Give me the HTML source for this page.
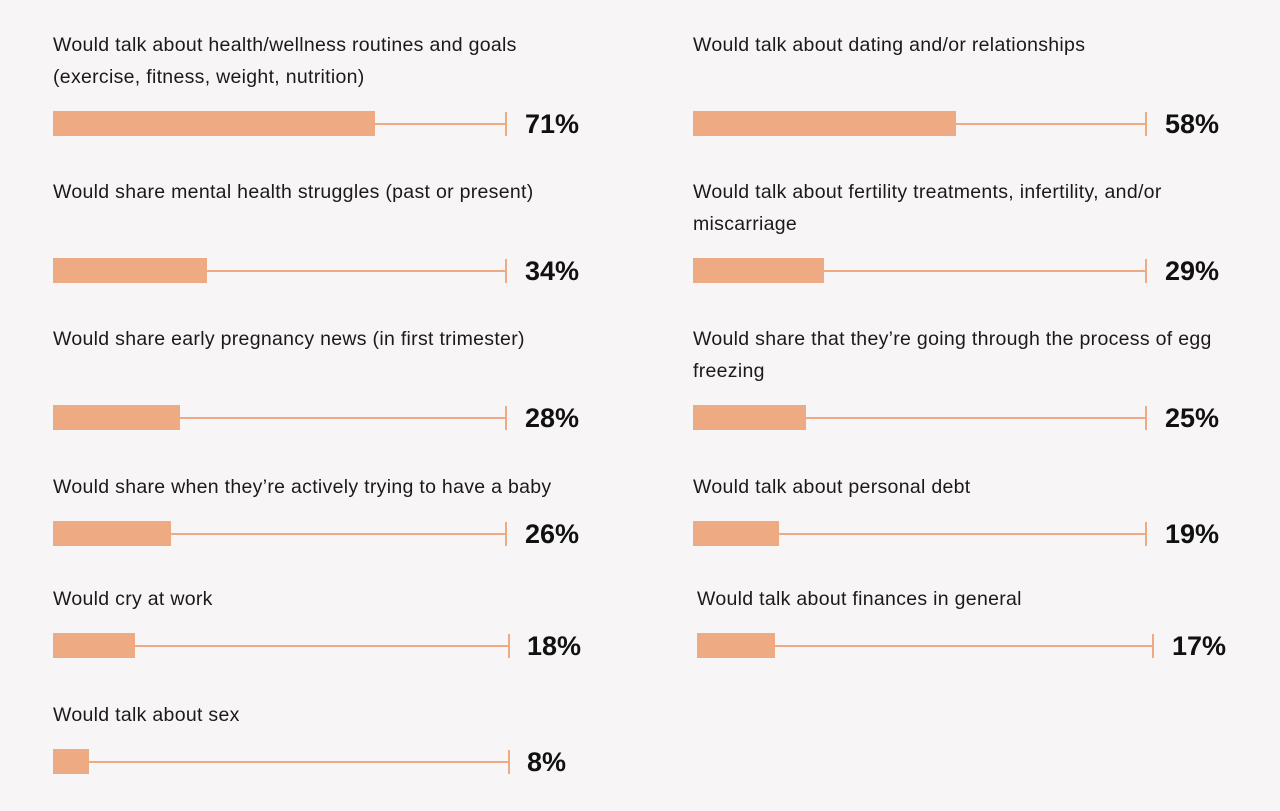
<!DOCTYPE html>
<html><head><style>
body{margin:0;width:1280px;height:811px;background:#f7f5f5;font-family:"Liberation Sans",sans-serif;position:relative;overflow:hidden}
.t{position:absolute;font-size:19.5px;letter-spacing:0.3px;color:#1a1a1a;line-height:32px;white-space:nowrap}
.b{position:absolute;height:25px;background:#eeab83}
.l{position:absolute;height:2px;background:#eeab83}
.k{position:absolute;width:2px;height:24px;background:#eeab83}
.p{position:absolute;font-size:27px;font-weight:bold;color:#111;line-height:30px}
</style></head><body>
<div id="c"></div>
<script>
const rows=[
[53,506,525,124,71,["Would talk about health/wellness routines and goals","(exercise, fitness, weight, nutrition)"],29],
[53,506,525,271,34,["Would share mental health struggles (past or present)"],176],
[53,506,525,418,28,["Would share early pregnancy news (in first trimester)"],323],
[53,506,525,534,26,["Would share when they’re actively trying to have a baby"],471],
[53,509,527,646,18,["Would cry at work"],583],
[53,509,527,762,8,["Would talk about sex"],699],
[693,1146,1165,124,58,["Would talk about dating and/or relationships"],29],
[693,1146,1165,271,29,["Would talk about fertility treatments, infertility, and/or","miscarriage"],176],
[693,1146,1165,418,25,["Would share that they’re going through the process of egg","freezing"],323],
[693,1146,1165,534,19,["Would talk about personal debt"],471],
[697,1153,1172,646,17,["Would talk about finances in general"],583]];
let h='';
for(const [x0,x1,px,cy,v,lab,ty] of rows){
 const w=Math.round((x1-x0)*v/100);
 h+=`<div class="t" style="left:${x0}px;top:${ty}px">${lab.join('<br>')}</div>`;
 h+=`<div class="l" style="left:${x0}px;width:${x1-x0}px;top:${cy-1}px"></div>`;
 h+=`<div class="b" style="left:${x0}px;width:${w}px;top:${cy-13}px"></div>`;
 h+=`<div class="k" style="left:${x1-1}px;top:${cy-12}px"></div>`;
 h+=`<div class="p" style="left:${px}px;top:${cy-15}px">${v}%</div>`;
}
document.getElementById('c').innerHTML=h;
</script>
</body></html>
